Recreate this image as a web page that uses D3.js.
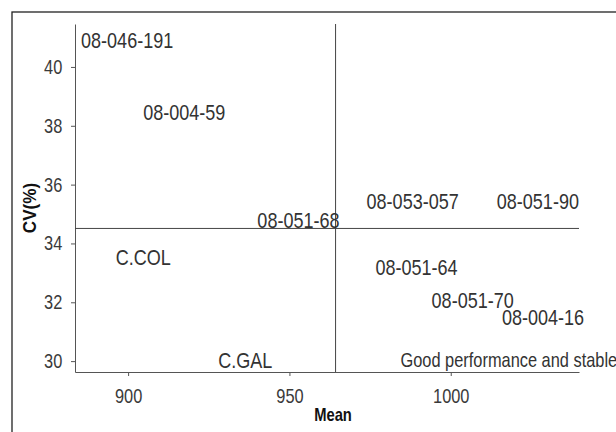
<!DOCTYPE html>
<html>
<head>
<meta charset="utf-8">
<script src="https://cdn.jsdelivr.net/npm/d3@7"></script>
<style>
  body { margin: 0; background: #fff; }
  svg { display: block; font-family: "Liberation Sans", Arial, sans-serif; }
  .axis path, .axis line { stroke: #555; }
  .axis text { fill: #3a3a3a; font-size: 20px; }
  .lbl { fill: #333; font-size: 22px; }
  .title { fill: #111; font-size: 18px; font-weight: bold; }
</style>
</head>
<body>
<svg class="chart"></svg>
<script>
var names = ["08-046-191", "08-004-59", "08-051-68", "08-053-057", "08-051-90",
             "C.COL", "C.GAL", "08-051-64", "08-051-70", "08-004-16"];
var means = [899.7, 917.4, 952.8, 988.2, 1027.0, 904.7, 936.3, 989.4, 1006.8, 1028.6];
var cvs   = [40.9, 38.45, 34.81, 35.43, 35.43, 33.55, 30.05, 33.21, 32.09, 31.51];

var xTicks = [900, 950, 1000];
var yTicks = [30, 32, 34, 36, 38, 40];

var meanRef = 964.3, cvRef = 34.51;
var note = {text: "Good performance and stable", mean: 1018, cv: 30.05};

var width = 616, height = 432;
var margin = {left: 75, right: 37, top: 24, bottom: 60};
var narrow = 0.82;   // squeeze Liberation Sans to a narrow face

var chart = d3.select(".chart")
    .attr("width", width)
    .attr("height", height);

// frame round the whole figure, runs off right and bottom
chart.append("rect")
    .attr("x", 12).attr("y", 12)
    .attr("width", width).attr("height", height)
    .attr("fill", "none").attr("stroke", "#222").attr("stroke-width", 1.3);

var x = d3.scaleLinear().domain([883.54, 1039.75]).range([margin.left, width - margin.right]);
var y = d3.scaleLinear().domain([29.63, 41.46]).range([height - margin.bottom, margin.top]);

var xAxis = chart.append("g")
    .attr("class", "axis")
    .attr("transform", "translate(0," + (height - margin.bottom) + ")")
    .call(d3.axisBottom(x).tickValues(xTicks).tickFormat(d3.format("d")).tickSize(4).tickSizeOuter(0));
xAxis.selectAll("text").attr("dy", "1.2em").attr("transform", "scale(" + narrow + ",1)");

var yAxis = chart.append("g")
    .attr("class", "axis")
    .attr("transform", "translate(" + margin.left + ",0)")
    .call(d3.axisLeft(y).tickValues(yTicks).tickSize(4).tickSizeOuter(0));
yAxis.selectAll("text").attr("x", -15.5).attr("transform", "scale(" + narrow + ",1)");

// reference lines
chart.append("line")
    .attr("x1", x(meanRef)).attr("x2", x(meanRef))
    .attr("y1", y.range()[0]).attr("y2", y.range()[1])
    .attr("stroke", "#444");
chart.append("line")
    .attr("x1", x.range()[0]).attr("x2", x.range()[1])
    .attr("y1", y(cvRef)).attr("y2", y(cvRef))
    .attr("stroke", "#444");

chart.append("g").selectAll("text")
    .data(names)
    .enter().append("text")
    .attr("class", "lbl")
    .attr("text-anchor", "middle")
    .attr("dy", "0.36em")
    .attr("transform", function(d, i) {
        return "translate(" + x(means[i]) + "," + y(cvs[i]) + ") scale(" + narrow + ",1)";
    })
    .text(function(d) { return d; });

chart.append("text")
    .attr("class", "lbl")
    .attr("text-anchor", "middle")
    .attr("dy", "0.36em")
    .attr("transform", "translate(" + x(note.mean) + "," + y(note.cv) + ") scale(" + narrow + ",1)")
    .style("font-size", "20px")
    .text(note.text);

chart.append("text")
    .attr("class", "title")
    .attr("text-anchor", "middle")
    .attr("transform", "translate(333,421) scale(" + narrow + ",1)")
    .text("Mean");

chart.append("text")
    .attr("class", "title")
    .attr("text-anchor", "middle")
    .attr("transform", "translate(36,208) rotate(-90) scale(0.95,1)")
    .text("CV(%)");
</script>
</body>
</html>
